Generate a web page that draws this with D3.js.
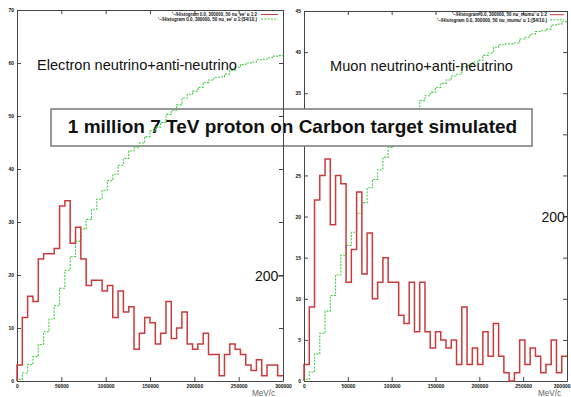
<!DOCTYPE html>
<html><head><meta charset="utf-8">
<script src="https://cdn.jsdelivr.net/npm/d3@7"></script>
<style>body{margin:0;background:#fff;} svg{display:block;}</style>
</head><body>
<script>
// ---- data ----
const binWidth = 6000;
const binStart = d3.range(0, 300000, binWidth); // 50 bins, 0..300000 MeV/c
const xTicks = [0, 50000, 100000, 150000, 200000, 250000, 300000];
const leftYTicks = [0, 10, 20, 30, 40, 50, 60, 70];
const rightYTicks = [0, 5, 10, 15, 20, 25, 30, 35, 40, 45];

const electronHist = [3,12,16,15,23,24,24,25,33,34,26,29,23,18,19,19,17,18,12,17,
                      13,14,6,9,12,11,7,9,15,8,10,13,7,6,7,9,5,5,1,5,
                      7,6,5,3,2,4,1,3,3,1];
const electronCum = [0.3,1.5,3.1,4.6,6.9,9.3,11.7,14.2,17.5,20.9,23.5,26.4,28.7,30.5,32.4,34.3,36.0,37.8,39.0,40.7,
                     42.0,43.4,44.0,44.9,46.1,47.2,47.9,48.8,50.3,51.1,52.1,53.4,54.1,54.7,55.4,56.3,56.8,57.3,57.4,57.9,
                     58.6,59.2,59.7,60.0,60.2,60.6,60.7,61.0,61.3,61.4];
const muonHist = [2,9,22,25,27,19,25,24,12,16,23,13,18,10,12,15,12,12,8,7,
                  12,6,12,6,4,6,5,4,5,2,9,2,4,2,6,3,7,3,1,0,
                  1,5,2,4,3,1,2,5,1,3];
const muonCum = [0.2,1.1,3.3,5.8,8.5,10.4,12.9,15.3,16.5,18.1,20.4,21.7,23.5,24.5,25.7,27.2,28.4,29.6,30.4,31.1,
                 32.3,32.9,34.1,34.7,35.1,35.7,36.2,36.6,37.1,37.3,38.2,38.4,38.8,39.0,39.6,39.9,40.6,40.9,41.0,41.0,
                 41.1,41.6,41.8,42.2,42.5,42.6,42.8,43.3,43.4,43.7];

const titleText = "1 million 7 TeV proton on Carbon target simulated";
const leftLabel = "Electron neutrino+anti-neutrino";
const rightLabel = "Muon neutrino+anti-neutrino";
const leftLegend = ["'~/Histogram 0.0, 300000, 50 nu_ee' u 1:2", "'~/Histogram 0.0, 300000, 50 nu_ee' u 1:($4/10.)"];
const rightLegend = ["'~/Histogram 0.0, 300000, 50 nu_mumu' u 1:2", "'~/Histogram 0.0, 300000, 50 nu_mumu' u 1:($4/10.)"];

// ---- drawing ----
const W = 571, H = 397;
const svg = d3.select("body").append("svg").attr("width", W).attr("height", H)
  .style("font-family", "'Liberation Sans', Arial, sans-serif");
svg.append("rect").attr("width", W).attr("height", H).attr("fill", "#fff");

const RED = "#cc3b3b", GREEN = "#3fcf3f", FRAME = "#444";

function panel(g, cfg) {
  const x = d3.scaleLinear().domain([0, 300000]).range([cfg.x0, cfg.x1]);
  const y = d3.scaleLinear().domain([0, cfg.yMax]).range([cfg.y0, cfg.y1]);
  const fmt = d3.format("d");
  const styleAxis = a => {
    a.selectAll("path.domain").attr("stroke", FRAME).attr("stroke-width", 1);
    a.selectAll(".tick line").attr("stroke", FRAME);
    a.selectAll("text").attr("font-size", 5).attr("font-weight", "bold").attr("fill", "#111");
  };
  const bx = g.append("g").attr("transform", `translate(0,${cfg.y0})`)
    .call(d3.axisBottom(x).tickValues(xTicks).tickFormat(fmt).tickSize(-4).tickSizeOuter(0).tickPadding(3))
    .call(styleAxis);
  if (cfg.lastLabelEnd) {
    bx.selectAll(".tick text").filter(d => d === 300000).attr("text-anchor", "end").attr("x", 3);
  }
  g.append("g").attr("transform", `translate(0,${cfg.y1})`)
    .call(d3.axisTop(x).tickValues(xTicks).tickFormat("").tickSize(-4).tickSizeOuter(0))
    .call(styleAxis);
  g.append("g").attr("transform", `translate(${cfg.x0},0)`)
    .call(d3.axisLeft(y).tickValues(cfg.yTicks).tickFormat(fmt).tickSize(-4).tickSizeOuter(0).tickPadding(3))
    .call(styleAxis);
  g.append("g").attr("transform", `translate(${cfg.x1},0)`)
    .call(d3.axisRight(y).tickValues(cfg.yTicks).tickFormat("").tickSize(-4).tickSizeOuter(0))
    .call(styleAxis);

  const step = d3.line().x(d => x(d[0])).y(d => y(d[1])).curve(d3.curveStepAfter);
  const pts = vals => [[0, 0], ...binStart.map((b, i) => [b, vals[i]]), [300000, vals[vals.length - 1]]];

  g.append("path").attr("d", step(pts(cfg.cum))).attr("fill", "none")
    .attr("stroke", GREEN).attr("stroke-width", 1.1).attr("stroke-dasharray", "2,1.3");
  g.append("path").attr("d", step(pts(cfg.hist))).attr("fill", "none")
    .attr("stroke", RED).attr("stroke-width", 1.5);

  // legend
  const lg = g.append("g");
  const cols = [RED, GREEN];
  cfg.legend.forEach((t, i) => {
    const ly = cfg.legY[i];
    lg.append("text").attr("x", cfg.legTextEnd).attr("y", ly + 1.7).attr("text-anchor", "end")
      .attr("font-size", 4.6).attr("font-weight", "bold").attr("fill", "#111")
      .attr("textLength", cfg.legLen[i]).attr("lengthAdjust", "spacingAndGlyphs").text(t);
    lg.append("line").attr("x1", cfg.legLine[0]).attr("x2", cfg.legLine[1]).attr("y1", ly).attr("y2", ly)
      .attr("stroke", cols[i]).attr("stroke-width", 1)
      .attr("stroke-dasharray", i === 1 ? "2,1.3" : null);
  });

  g.append("text").attr("x", cfg.labelX).attr("y", cfg.labelY).attr("font-size", 14.6)
    .attr("fill", "#111").text(cfg.label);
  g.append("text").attr("x", cfg.unitX).attr("y", 396).attr("font-size", 8.2)
    .attr("fill", "#666").text("MeV/c");
  // stray "200" tick label
  g.append("text").attr("x", cfg.t200X).attr("y", cfg.t200Y + 5).attr("font-size", 14)
    .attr("fill", "#111").text("200");
  g.append("line").attr("x1", cfg.t200X + 22).attr("x2", cfg.x1).attr("y1", cfg.t200Y).attr("y2", cfg.t200Y)
    .attr("stroke", "#333").attr("stroke-width", 1);
}

// right panel first (title box overlays it)
panel(svg.append("g"), {
  x0: 304, x1: 567, y0: 381, y1: 11, yMax: 45, yTicks: rightYTicks,
  hist: muonHist, cum: muonCum, legend: rightLegend,
  legY: [14.7, 19.8], legTextEnd: 547, legLen: [95, 110], legLine: [550, 564],
  label: rightLabel, labelX: 330, labelY: 71, unitX: 538, t200X: 541.5, t200Y: 216.5,
  lastLabelEnd: true
});

// title box
svg.append("rect").attr("x", 51).attr("y", 109).attr("width", 481).attr("height", 37)
  .attr("fill", "#fff").attr("stroke", "#777").attr("stroke-width", 1.5);
svg.append("text").attr("x", 292.5).attr("y", 133).attr("text-anchor", "middle")
  .attr("font-size", 19).attr("font-weight", "bold").attr("fill", "#111").text(titleText);

panel(svg.append("g"), {
  x0: 17, x1: 283, y0: 381, y1: 10, yMax: 70, yTicks: leftYTicks,
  hist: electronHist, cum: electronCum, legend: leftLegend,
  legY: [14.5, 19], legTextEnd: 257, legLen: [85, 99], legLine: [261, 278],
  label: leftLabel, labelX: 37, labelY: 70, unitX: 252, t200X: 255, t200Y: 276
});
</script>
</body></html>
